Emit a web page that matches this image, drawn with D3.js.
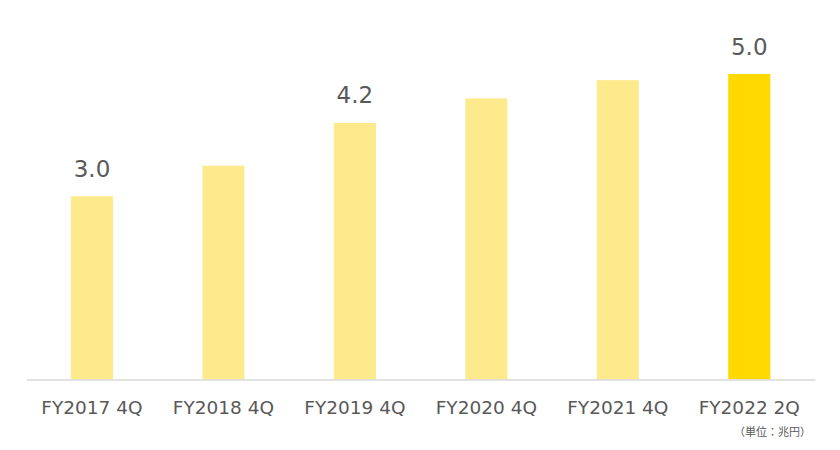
<!DOCTYPE html>
<html><head><meta charset="utf-8">
<script src="https://cdn.jsdelivr.net/npm/d3@7"></script>
<style>body{margin:0;background:#fff}svg{display:block}</style>
</head><body>
<svg id="c" width="840" height="450"></svg>
<script>
const categories = ["FY2017 4Q","FY2018 4Q","FY2019 4Q","FY2020 4Q","FY2021 4Q","FY2022 2Q"];
const values = [3.0, 3.5, 4.2, 4.6, 4.9, 5.0];
const valueLabels = ["3.0", "", "4.2", "", "", "5.0"];
const highlight = [false, false, false, false, false, true];
const unitLabel = "（単位：兆円）";

const svg = d3.select("#c");
const x = d3.scaleBand().domain(categories).range([26.25, 815]).paddingInner(0.68).paddingOuter(0.34);
const y = d3.scaleLinear().domain([0, 6]).range([379.5, 379.5 - 6 * 61.1]);

svg.selectAll("rect.bar").data(categories).enter().append("rect")
  .attr("class", "bar")
  .attr("x", d => x(d))
  .attr("width", x.bandwidth())
  .attr("y", (d, i) => y(values[i]))
  .attr("height", (d, i) => y(0) - y(values[i]))
  .attr("fill", (d, i) => highlight[i] ? "#FFD900" : "#FDEA8C");

const axis = svg.append("g").attr("transform", `translate(0,${y(0)})`)
  .call(d3.axisBottom(x).tickSize(0).tickPadding(0));
axis.select(".domain").attr("stroke", "#D9D9D9").attr("stroke-width", 1.5);
axis.selectAll("text")
  .attr("dy", null)
  .attr("y", 34.5)
  .attr("fill", "#595959")
  .style("font-family", "'DejaVu Sans', sans-serif")
  .style("font-size", "18.5px");

svg.selectAll("text.val").data(categories).enter().append("text")
  .attr("class", "val")
  .attr("x", d => x(d) + x.bandwidth() / 2)
  .attr("y", (d, i) => y(values[i]) - 19.5)
  .attr("text-anchor", "middle")
  .attr("fill", "#595959")
  .style("font-family", "'DejaVu Sans', sans-serif")
  .style("font-size", "23px")
  .text((d, i) => valueLabels[i]);

svg.append("text")
  .attr("x", 811).attr("y", 436)
  .attr("text-anchor", "end")
  .attr("fill", "#595959")
  .style("font-family", "'Noto Sans CJK JP', sans-serif")
  .style("font-size", "11px")
  .text(unitLabel);
</script>
</body></html>
